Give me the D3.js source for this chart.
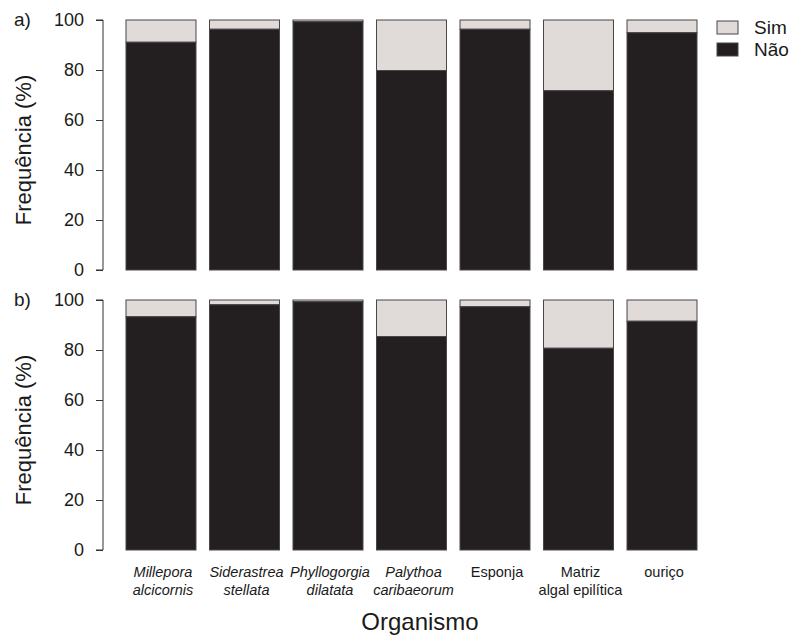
<!DOCTYPE html>
<html>
<head>
<meta charset="utf-8">
<script src="https://cdn.jsdelivr.net/npm/d3@7"></script>
<style>
  body { margin: 0; background: #fff; }
  svg text { font-family: "Liberation Sans", Arial, sans-serif; fill: #1a1a1a; }
</style>
</head>
<body>
<div id="container"></div>
<script>
// categories (lines of the x labels) and whether they are italic
const categories = ["Millepora alcicornis", "Siderastrea stellata", "Phyllogorgia dilatata",
                    "Palythoa caribaeorum", "Esponja", "Matriz algal epilítica", "ouriço"];
const labelLines = [["Millepora", "alcicornis"], ["Siderastrea", "stellata"], ["Phyllogorgia", "dilatata"],
                    ["Palythoa", "caribaeorum"], ["Esponja"], ["Matriz", "algal epilítica"], ["ouriço"]];
const labelItalic = [true, true, true, true, false, false, false];

// "Não" percentage per organism, panel a) and b); "Sim" is the rest up to 100
const naoA = [91.1, 96.3, 99.3, 79.8, 96.3, 71.7, 94.9];
const naoB = [93.3, 98.1, 99.3, 85.4, 97.3, 80.7, 91.5];
const panelNames = ["a)", "b)"];
const yTicks = [0, 20, 40, 60, 80, 100];

const darkFill = "#231f20";
const lightFill = "#e0dad8";

const width = 792, height = 637;
const svg = d3.select("#container").append("svg")
    .attr("width", width)
    .attr("height", height);

const x = d3.scaleBand()
    .domain(categories)
    .range([119.25, 703.75])
    .paddingInner(0.1617)
    .paddingOuter(0.0808);

const panels = [
  { name: panelNames[0], nao: naoA, top: 20, bottom: 270 },
  { name: panelNames[1], nao: naoB, top: 300, bottom: 550 }
];

panels.forEach(p => {
  const y = d3.scaleLinear().domain([0, 100]).range([p.bottom, p.top]);
  const g = svg.append("g");

  const rows = categories.map((c, i) => ({ cat: c, nao: p.nao[i] }));

  // Sim (top part)
  g.selectAll("rect.sim")
    .data(rows)
    .enter().append("rect")
      .attr("class", "sim")
      .attr("x", d => x(d.cat))
      .attr("width", x.bandwidth())
      .attr("y", y(100))
      .attr("height", d => y(d.nao) - y(100))
      .attr("fill", lightFill)
      .attr("stroke", "#4a4646")
      .attr("stroke-width", 1);

  // Não (bottom part)
  g.selectAll("rect.nao")
    .data(rows)
    .enter().append("rect")
      .attr("class", "nao")
      .attr("x", d => x(d.cat))
      .attr("width", x.bandwidth())
      .attr("y", d => y(d.nao))
      .attr("height", d => y(0) - y(d.nao))
      .attr("fill", darkFill)
      .attr("stroke", "#4a4646")
      .attr("stroke-width", 1);

  const axis = g.append("g")
      .attr("transform", "translate(103,0)")
      .call(d3.axisLeft(y).tickValues(yTicks).tickSize(7).tickPadding(12));
  axis.select(".domain").attr("stroke", "#333").attr("d", `M-7,${y(0)}H0V${y(100)}H-7`);
  axis.selectAll(".tick line").attr("stroke", "#333");
  axis.selectAll(".tick text")
      .style("font-family", "Liberation Sans, Arial, sans-serif")
      .style("font-size", "18px")
      .attr("fill", "#1a1a1a");

  g.append("text")
      .attr("x", 14)
      .attr("y", p.top + 6)
      .style("font-size", "19px")
      .text(p.name);

  g.append("text")
      .attr("transform", `translate(31,${(p.top + p.bottom) / 2 + 5}) rotate(-90)`)
      .attr("text-anchor", "middle")
      .style("font-size", "22px")
      .text("Frequência (%)");
});

// legend
const legend = svg.append("g").attr("transform", "translate(717,21)");
[["Sim", lightFill], ["Não", darkFill]].forEach((d, i) => {
  legend.append("rect")
      .attr("x", 0).attr("y", i * 22)
      .attr("width", 21).attr("height", 13)
      .attr("fill", d[1])
      .attr("stroke", "#4a4646");
  legend.append("text")
      .attr("x", 37).attr("y", i * 22 + 13)
      .style("font-size", "19px")
      .text(d[0]);
});

// x labels
const lab = svg.append("g");
categories.forEach((c, i) => {
  const cx = x(c) + x.bandwidth() / 2 + 2;
  const t = lab.append("text")
      .attr("x", cx)
      .attr("y", 577)
      .attr("text-anchor", "middle")
      .style("font-size", "14.5px")
      .style("font-style", labelItalic[i] ? "italic" : "normal");
  labelLines[i].forEach((line, j) => {
    t.append("tspan")
        .attr("x", cx)
        .attr("dy", j === 0 ? 0 : 18)
        .text(line);
  });
});

svg.append("text")
    .attr("x", 420)
    .attr("y", 630)
    .attr("text-anchor", "middle")
    .style("font-size", "24px")
    .text("Organismo");
</script>
</body>
</html>
